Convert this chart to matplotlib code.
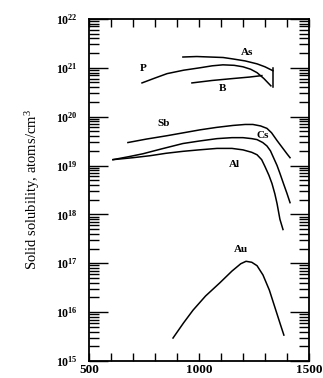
import numpy as np
import matplotlib
matplotlib.use("Agg")
from matplotlib import pyplot as plt
from matplotlib.ticker import LogLocator, MultipleLocator, FixedLocator, NullFormatter

plt.rcParams['font.family'] = ['Liberation Serif', 'DejaVu Serif']
plt.rcParams['mathtext.default'] = 'regular'

# Curves: temperature vs log10(solubility)
as_t = [927, 990, 1050, 1110, 1155, 1210, 1264, 1300, 1336]
as_y = [21.22, 21.23, 21.22, 21.21, 21.18, 21.14, 21.08, 21.02, 20.94]

p_t = [741, 800, 855, 930, 1005, 1060, 1109, 1160, 1200, 1235, 1264, 1295, 1327]
p_y = [20.69, 20.79, 20.88, 20.95, 21.00, 21.04, 21.06, 21.05, 21.02, 20.97, 20.90, 20.78, 20.63]

b_t = [968, 1060, 1155, 1230, 1286]
b_y = [20.69, 20.74, 20.78, 20.81, 20.84]

edge_t = [1336, 1336]
edge_y = [21.00, 20.61]

sb_t = [677, 760, 855, 930, 1005, 1080, 1155, 1210, 1245, 1280, 1309, 1330, 1355, 1380, 1400, 1414]
sb_y = [19.47, 19.54, 19.61, 19.67, 19.73, 19.78, 19.82, 19.84, 19.84, 19.81, 19.76, 19.67,
        19.51, 19.36, 19.24, 19.16]

cs_t = [609, 680, 745, 830, 927, 1000, 1082, 1150, 1200, 1240, 1264, 1290, 1309, 1325,
        1340, 1355, 1368, 1385, 1400, 1414]
cs_y = [19.12, 19.18, 19.24, 19.34, 19.45, 19.50, 19.55, 19.57, 19.57, 19.55, 19.53, 19.47,
        19.40, 19.30, 19.15, 19.00, 18.84, 18.62, 18.43, 18.24]

al_t = [609, 700, 777, 850, 927, 1000, 1082, 1150, 1200, 1240, 1264, 1285, 1300, 1318,
        1332, 1345, 1355, 1368, 1382]
al_y = [19.12, 19.16, 19.20, 19.25, 19.29, 19.32, 19.35, 19.35, 19.32, 19.27, 19.22, 19.12,
        18.98, 18.80, 18.63, 18.42, 18.22, 17.90, 17.69]

au_t = [882, 930, 973, 1030, 1095, 1150, 1190, 1214, 1240, 1264, 1291, 1320, 1345, 1370, 1386]
au_y = [15.47, 15.78, 16.04, 16.33, 16.60, 16.84, 16.99, 17.04, 17.02, 16.95, 16.76, 16.45,
        16.10, 15.75, 15.53]

labels = ['As', 'P', 'B', 'Sb', 'Cs', 'Al', 'Au']
label_t = [1220, 745, 1105, 840, 1290, 1160, 1190]
label_y = [21.31, 20.98, 20.57, 19.86, 19.61, 19.03, 17.28]

yticks = [15, 16, 17, 18, 19, 20, 21, 22]

fig = plt.figure(figsize=(3.23, 3.78), dpi=100)
ax = fig.add_axes([0.2755, 0.045, 0.681, 0.905])

for t, y in [(as_t, as_y), (p_t, p_y), (b_t, b_y), (edge_t, edge_y),
             (sb_t, sb_y), (cs_t, cs_y), (al_t, al_y), (au_t, au_y)]:
    ax.plot(t, 10.0 ** np.array(y), color='black', lw=1.1)

for s, t, y in zip(labels, label_t, label_y):
    ax.text(t, 10.0 ** y, s, fontsize=8, fontweight='bold', ha='center', va='center')

ax.set_yscale('log')
ax.set_xlim(500, 1500)
ax.set_ylim(1e15, 1e22)

ax.xaxis.set_major_locator(FixedLocator([500, 1000, 1500]))
ax.xaxis.set_minor_locator(MultipleLocator(100))
ax.set_xticklabels(['500', '1000', '1500'], fontsize=9.5, fontweight='bold')

ax.yaxis.set_major_locator(FixedLocator([10.0 ** k for k in yticks]))
ax.set_yticklabels(['10$^{%d}$' % k for k in yticks], fontsize=8.5, fontweight='bold')
ax.yaxis.set_minor_locator(LogLocator(base=10, subs=np.arange(2, 10)))
ax.yaxis.set_minor_formatter(NullFormatter())

ax.tick_params(axis='y', which='major', direction='in', length=14, width=1, pad=8,
               right=True)
ax.tick_params(axis='y', which='minor', direction='in', length=7, width=1, right=True)
ax.tick_params(axis='x', which='major', direction='in', length=6, width=1, pad=2,
               top=True)
ax.tick_params(axis='x', which='minor', direction='in', length=6, width=1, top=True)

for sp in ax.spines.values():
    sp.set_linewidth(1.3)

ax.set_ylabel('Solid solubility, atoms/cm$^3$', fontsize=10.5, labelpad=10)

fig.savefig('out.png', dpi=100)
